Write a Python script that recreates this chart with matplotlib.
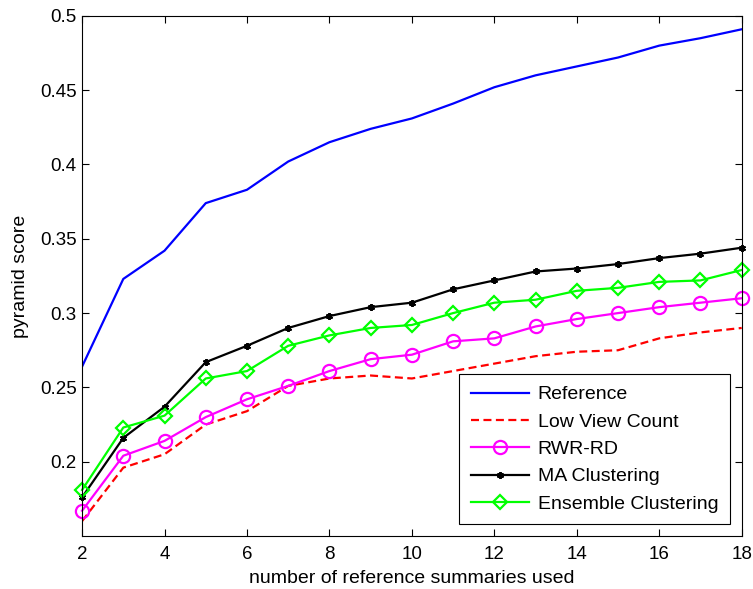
import numpy as np
import matplotlib.pyplot as plt

plt.rcParams['font.family'] = ['Liberation Sans', 'DejaVu Sans']

# number of reference summaries used
n_refs = list(range(2, 19))

reference = [0.264, 0.323, 0.342, 0.374, 0.383, 0.402, 0.415, 0.424, 0.431,
             0.441, 0.452, 0.460, 0.466, 0.472, 0.480, 0.485, 0.491]
low_view = [0.160, 0.196, 0.205, 0.225, 0.234, 0.251, 0.256, 0.258, 0.256,
            0.261, 0.266, 0.271, 0.274, 0.275, 0.283, 0.287, 0.290]
rwr_rd = [0.167, 0.204, 0.214, 0.230, 0.242, 0.251, 0.261, 0.269, 0.272,
          0.281, 0.283, 0.291, 0.296, 0.300, 0.304, 0.307, 0.310]
ma_clust = [0.176, 0.216, 0.237, 0.267, 0.278, 0.290, 0.298, 0.304, 0.307,
            0.316, 0.322, 0.328, 0.330, 0.333, 0.337, 0.340, 0.344]
ens_clust = [0.181, 0.223, 0.231, 0.256, 0.261, 0.278, 0.285, 0.290, 0.292,
             0.300, 0.307, 0.309, 0.315, 0.317, 0.321, 0.322, 0.329]

y_ticks = [0.2, 0.25, 0.3, 0.35, 0.4, 0.45, 0.5]
x_ticks = list(range(2, 19, 2))

fig = plt.figure(figsize=(7.53, 5.89), dpi=100)
ax = fig.add_axes([0.109, 0.09, 0.876, 0.883])

ax.plot(n_refs, reference, color='#0000ff', lw=1.6, label='Reference')
ax.plot(n_refs, low_view, color='#ff0000', lw=1.6, ls=(0, (3.6, 2)), label='Low View Count')
ax.plot(n_refs, rwr_rd, color='#ff00ff', lw=1.6, marker='o', ms=9.5, mfc='none', mew=1.6,
        clip_on=False, label='RWR-RD')
ax.plot(n_refs, ma_clust, color='black', lw=1.6, marker=(6, 2, 0), ms=5, mew=1.4,
        clip_on=False, label='MA Clustering')
ax.plot(n_refs, ens_clust, color='#00ff00', lw=1.6, marker='D', ms=7.5, mfc='none', mew=1.6,
        clip_on=False, label='Ensemble Clustering')

ax.set_xlim(2, 18)
ax.set_ylim(0.15, 0.5)
ax.set_xticks(x_ticks)
ax.set_yticks(y_ticks)
ax.set_yticklabels(['%g' % v for v in y_ticks])
ax.tick_params(direction='in', top=True, right=True, labelsize=13.5, length=5, width=0.8)
ax.tick_params(axis='x', pad=7)
ax.tick_params(axis='y', pad=4)
for s in ax.spines.values():
    s.set_linewidth(0.8)

ax.set_xlabel('number of reference summaries used', fontsize=14, labelpad=5)
ax.set_ylabel('pyramid score', fontsize=14, labelpad=8)

leg = ax.legend(loc='lower right', fontsize=14, fancybox=False, edgecolor='black',
                framealpha=1, handlelength=3.0, handletextpad=0.45, borderaxespad=0.6,
                borderpad=0.6, labelspacing=0.5)
leg.get_frame().set_linewidth(0.8)

fig.savefig('out.png', dpi=100)
